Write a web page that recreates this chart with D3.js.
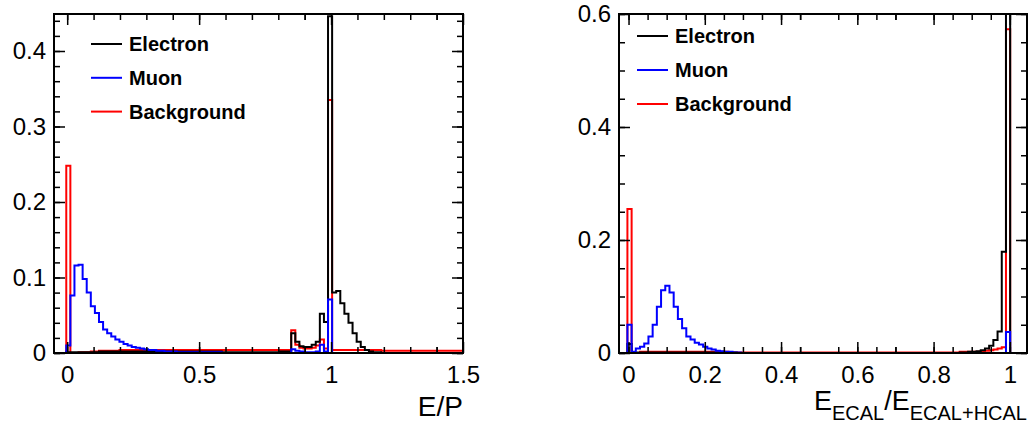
<!DOCTYPE html>
<html>
<head>
<meta charset="utf-8">
<script src="https://cdn.jsdelivr.net/npm/d3@7"></script>
<style>
  body { margin: 0; background: #fff; }
  text { font-family: "Liberation Sans", Arial, sans-serif; }
</style>
</head>
<body>
<div id="content"></div>
<script>
// ---- Left panel: E/P, 100 bins from -0.05 to 1.5 ----
var epRange = [-0.05, 1.5];
var epElectron = [
  0, 0, 0, 0.001, 0.001, 0.001, 0.001, 0.001, 0.001, 0.001,
  0.001, 0.002, 0.002, 0.002, 0.002, 0.002, 0.002, 0.002, 0.002, 0.002,
  0.002, 0.002, 0.002, 0.002, 0.002, 0.002, 0.002, 0.002, 0.002, 0.002,
  0.002, 0.002, 0.002, 0.002, 0.002, 0.002, 0.002, 0.002, 0.002, 0.002,
  0.002, 0.001, 0.001, 0.001, 0.001, 0.001, 0.001, 0.001, 0.001, 0.001,
  0.001, 0.001, 0.001, 0.001, 0.001, 0.002, 0.002, 0.002, 0.026, 0.015,
  0.009, 0.008, 0.008, 0.011, 0.015, 0.052, 0.041, 0.446, 0.080, 0.082,
  0.066, 0.052, 0.040, 0.026, 0.015, 0.008, 0.004, 0.002, 0.001, 0.001,
  0, 0, 0, 0, 0, 0, 0, 0, 0, 0,
  0, 0, 0, 0, 0, 0, 0, 0, 0, 0
];
var epMuon = [
  0, 0, 0, 0.010, 0.076, 0.116, 0.117, 0.098, 0.080, 0.062,
  0.053, 0.041, 0.031, 0.026, 0.022, 0.018, 0.015, 0.012, 0.010, 0.008,
  0.007, 0.006, 0.005, 0.004, 0.004, 0.003, 0.003, 0.002, 0.002, 0.002,
  0.001, 0.001, 0.001, 0.001, 0.001, 0.001, 0.001, 0.001, 0.001, 0.001,
  0.001, 0, 0, 0, 0, 0, 0, 0, 0, 0,
  0, 0, 0, 0, 0, 0, 0, 0, 0.005, 0.003,
  0.002, 0.001, 0.001, 0.001, 0.002, 0.011, 0.002, 0.071, 0, 0,
  0, 0, 0, 0, 0, 0, 0, 0, 0, 0,
  0, 0, 0, 0, 0, 0, 0, 0, 0, 0,
  0, 0, 0, 0, 0, 0, 0, 0, 0, 0
];
var epBackground = [
  0, 0, 0, 0.248, 0, 0, 0.001, 0.001, 0.001, 0.002,
  0.002, 0.003, 0.003, 0.003, 0.003, 0.003, 0.004, 0.004, 0.004, 0.004,
  0.004, 0.004, 0.004, 0.004, 0.004, 0.004, 0.004, 0.004, 0.004, 0.004,
  0.004, 0.004, 0.004, 0.004, 0.004, 0.004, 0.004, 0.004, 0.004, 0.004,
  0.004, 0.004, 0.004, 0.004, 0.004, 0.004, 0.004, 0.004, 0.004, 0.004,
  0.004, 0.004, 0.004, 0.004, 0.004, 0.004, 0.004, 0.004, 0.030, 0.011,
  0.007, 0.006, 0.006, 0.007, 0.010, 0.018, 0.006, 0.335, 0.004, 0.004,
  0.004, 0.004, 0.004, 0.004, 0.004, 0.004, 0.004, 0.004, 0.004, 0.004,
  0.003, 0.003, 0.003, 0.003, 0.003, 0.003, 0.003, 0.003, 0.003, 0.003,
  0.003, 0.003, 0.003, 0.003, 0.003, 0.003, 0.003, 0.003, 0.003, 0.003
];
var epXTicks = [0, 0.5, 1, 1.5];
var epYTicks = [0, 0.1, 0.2, 0.3, 0.4];

// ---- Right panel: E_ECAL/E_ECAL+HCAL, 97 bins from -0.025 to 1.045 ----
var ecRange = [-0.025, 1.045];
var ecElectron = [
  0, 0, 0.016, 0.001, 0.001, 0.001, 0.001, 0.001, 0.001, 0.001,
  0.001, 0.001, 0.001, 0.001, 0.001, 0.001, 0.001, 0.001, 0.001, 0.001,
  0.001, 0.001, 0.001, 0.001, 0.001, 0.001, 0.001, 0.001, 0, 0,
  0, 0, 0, 0, 0, 0, 0, 0, 0, 0,
  0, 0, 0, 0, 0, 0, 0, 0, 0, 0,
  0, 0, 0, 0, 0, 0, 0, 0, 0, 0,
  0, 0, 0, 0, 0, 0, 0, 0, 0, 0,
  0, 0, 0, 0, 0, 0, 0, 0, 0, 0,
  0, 0.001, 0.001, 0.002, 0.002, 0.003, 0.005, 0.008, 0.013, 0.023,
  0.038, 0.179, 0.95, 0, 0, 0, 0
];
var ecMuon = [
  0, 0, 0.050, 0.002, 0.008, 0.011, 0.017, 0.029, 0.050, 0.082,
  0.111, 0.119, 0.107, 0.082, 0.060, 0.044, 0.029, 0.024, 0.018, 0.015,
  0.011, 0.008, 0.006, 0.004, 0.003, 0.002, 0.002, 0.001, 0.001, 0,
  0, 0, 0, 0, 0, 0, 0, 0, 0, 0,
  0, 0, 0, 0, 0, 0, 0, 0, 0, 0,
  0, 0, 0, 0, 0, 0, 0, 0, 0, 0,
  0, 0, 0, 0, 0, 0, 0, 0, 0, 0,
  0, 0, 0, 0, 0, 0, 0, 0, 0, 0,
  0, 0, 0, 0, 0, 0, 0, 0, 0, 0,
  0, 0, 0.037, 0, 0, 0, 0
];
var ecBackground = [
  0, 0, 0.255, 0, 0, 0.002, 0.002, 0.002, 0.002, 0.002,
  0.002, 0.002, 0.002, 0.002, 0.002, 0.002, 0.002, 0.002, 0.002, 0.002,
  0.002, 0.002, 0.002, 0.002, 0.002, 0.002, 0.001, 0.001, 0.001, 0.001,
  0.001, 0.001, 0.001, 0.001, 0.001, 0.001, 0.001, 0.001, 0.001, 0.001,
  0.001, 0.001, 0.001, 0.001, 0.001, 0.001, 0.001, 0.001, 0.001, 0.001,
  0.001, 0.001, 0.001, 0.001, 0.001, 0.001, 0.001, 0.001, 0.001, 0.001,
  0.001, 0.001, 0.001, 0.001, 0.001, 0.001, 0.001, 0.001, 0.001, 0.001,
  0.001, 0.001, 0.001, 0.001, 0.001, 0.001, 0.001, 0.001, 0.001, 0.001,
  0.001, 0.002, 0.002, 0.002, 0.002, 0.002, 0.003, 0.004, 0.005, 0.006,
  0.008, 0.010, 0.573, 0, 0, 0, 0
];
var ecXTicks = [0, 0.2, 0.4, 0.6, 0.8, 1];
var ecYTicks = [0, 0.2, 0.4, 0.6];

var legendNames = ['Electron', 'Muon', 'Background'];
var colors = {Electron: '#000000', Muon: '#0000ff', Background: '#ff0000'};

var svg = d3.select('#content')
              .append('svg')
              .attr('width', 1030)
              .attr('height', 426);

function tickFmt(d) { return d === 0 ? '0' : String(d); }

// Draw one panel (frame, ticks, histograms, legend).
function drawPanel(p) {
  var x = d3.scaleLinear().domain(p.xDomain).range([p.left, p.right]);
  var y = d3.scaleLinear().domain(p.yDomain).range([p.bottom, p.top]);
  var g = svg.append('g');

  // clip region
  g.append('clipPath').attr('id', p.id)
      .append('rect')
      .attr('x', p.left).attr('y', p.top)
      .attr('width', p.right - p.left).attr('height', p.bottom - p.top);

  // histograms, drawn as steps
  var nb = p.series[0].values.length;
  var bw = (p.xDomain[1] - p.xDomain[0]) / nb;
  var line = d3.line()
                 .x(function(d) { return x(d[0]); })
                 .y(function(d) { return y(d[1]); })
                 .curve(d3.curveStepAfter);
  var hg = g.append('g').attr('clip-path', 'url(#' + p.id + ')');
  p.series.forEach(function(s) {
    var pts = s.values.map(function(v, i) {
      return [p.xDomain[0] + i * bw, v];
    });
    pts.push([p.xDomain[1], s.values[nb - 1]]);
    hg.append('path')
        .attr('d', line(pts))
        .attr('fill', 'none')
        .attr('stroke', colors[s.name])
        .attr('stroke-width', 2);
  });

  // axes: ticks inside the frame on all four sides
  function styleAxis(sel) {
    sel.select('.domain').remove();
    sel.selectAll('line').attr('stroke', '#000').attr('stroke-width', 1.5);
    sel.selectAll('text').attr('font-size', 24).attr('fill', '#000');
  }
  var xMinor = d3.range(p.xDomain[0], p.xDomain[1] + 1e-9, p.xMinor)
                   .map(function(v) { return Math.round(v / p.xMinor) * p.xMinor; })
                   .filter(function(v) { return v >= p.xDomain[0] && v <= p.xDomain[1]; });
  var yMinor = d3.range(0, p.yDomain[1] + 1e-9, p.yMinor);

  g.append('g').attr('transform', 'translate(0,' + p.bottom + ')')
      .call(d3.axisBottom(x).tickValues(p.xTicks).tickFormat(tickFmt)
                .tickSize(-11).tickPadding(13))
      .call(styleAxis);
  g.append('g').attr('transform', 'translate(0,' + p.bottom + ')')
      .call(d3.axisBottom(x).tickValues(xMinor).tickFormat('').tickSize(-6))
      .call(styleAxis);
  g.append('g').attr('transform', 'translate(0,' + p.top + ')')
      .call(d3.axisTop(x).tickValues(p.xTicks).tickFormat('').tickSize(-11))
      .call(styleAxis);
  g.append('g').attr('transform', 'translate(0,' + p.top + ')')
      .call(d3.axisTop(x).tickValues(xMinor).tickFormat('').tickSize(-6))
      .call(styleAxis);

  g.append('g').attr('transform', 'translate(' + p.left + ',0)')
      .call(d3.axisLeft(y).tickValues(p.yTicks).tickFormat(tickFmt)
                .tickSize(-11).tickPadding(8))
      .call(styleAxis);
  g.append('g').attr('transform', 'translate(' + p.left + ',0)')
      .call(d3.axisLeft(y).tickValues(yMinor).tickFormat('').tickSize(-6))
      .call(styleAxis);
  g.append('g').attr('transform', 'translate(' + p.right + ',0)')
      .call(d3.axisRight(y).tickValues(p.yTicks).tickFormat('').tickSize(-11))
      .call(styleAxis);
  g.append('g').attr('transform', 'translate(' + p.right + ',0)')
      .call(d3.axisRight(y).tickValues(yMinor).tickFormat('').tickSize(-6))
      .call(styleAxis);

  // frame
  g.append('rect')
      .attr('x', p.left).attr('y', p.top)
      .attr('width', p.right - p.left).attr('height', p.bottom - p.top)
      .attr('fill', 'none').attr('stroke', '#000').attr('stroke-width', 2);

  // legend
  legendNames.forEach(function(name, i) {
    var ly = p.legY + i * p.legStep;
    g.append('line')
        .attr('x1', p.legX).attr('x2', p.legX + 31)
        .attr('y1', ly).attr('y2', ly)
        .attr('stroke', colors[name]).attr('stroke-width', 2);
    g.append('text')
        .attr('x', p.legX + 38).attr('y', ly + 7)
        .attr('font-size', 20).attr('font-weight', 'bold')
        .text(name);
  });

  return g;
}

var left = drawPanel({
  id: 'clipL', left: 54, right: 463, top: 14, bottom: 353,
  xDomain: epRange, yDomain: [0, 0.449],
  xTicks: epXTicks, yTicks: epYTicks, xMinor: 0.1, yMinor: 0.02,
  series: [
    {name: 'Background', values: epBackground},
    {name: 'Electron', values: epElectron},
    {name: 'Muon', values: epMuon}
  ],
  legX: 91, legY: 44, legStep: 33.8
});
left.append('text')
    .attr('x', 463).attr('y', 416)
    .attr('text-anchor', 'end').attr('font-size', 28)
    .text('E/P');

var right = drawPanel({
  id: 'clipR', left: 619, right: 1027, top: 14, bottom: 353,
  xDomain: ecRange, yDomain: [0, 0.6],
  xTicks: ecXTicks, yTicks: ecYTicks, xMinor: 0.05, yMinor: 0.05,
  series: [
    {name: 'Background', values: ecBackground},
    {name: 'Electron', values: ecElectron},
    {name: 'Muon', values: ecMuon}
  ],
  legX: 637, legY: 36, legStep: 34
});
var title = right.append('text')
    .attr('x', 1027).attr('y', 410)
    .attr('text-anchor', 'end').attr('font-size', 27);
title.append('tspan').text('E');
title.append('tspan').attr('font-size', 20).attr('dy', 10).text('ECAL');
title.append('tspan').attr('dy', -10).text('/E');
title.append('tspan').attr('font-size', 20).attr('dy', 10).text('ECAL+HCAL');
</script>
</body>
</html>
